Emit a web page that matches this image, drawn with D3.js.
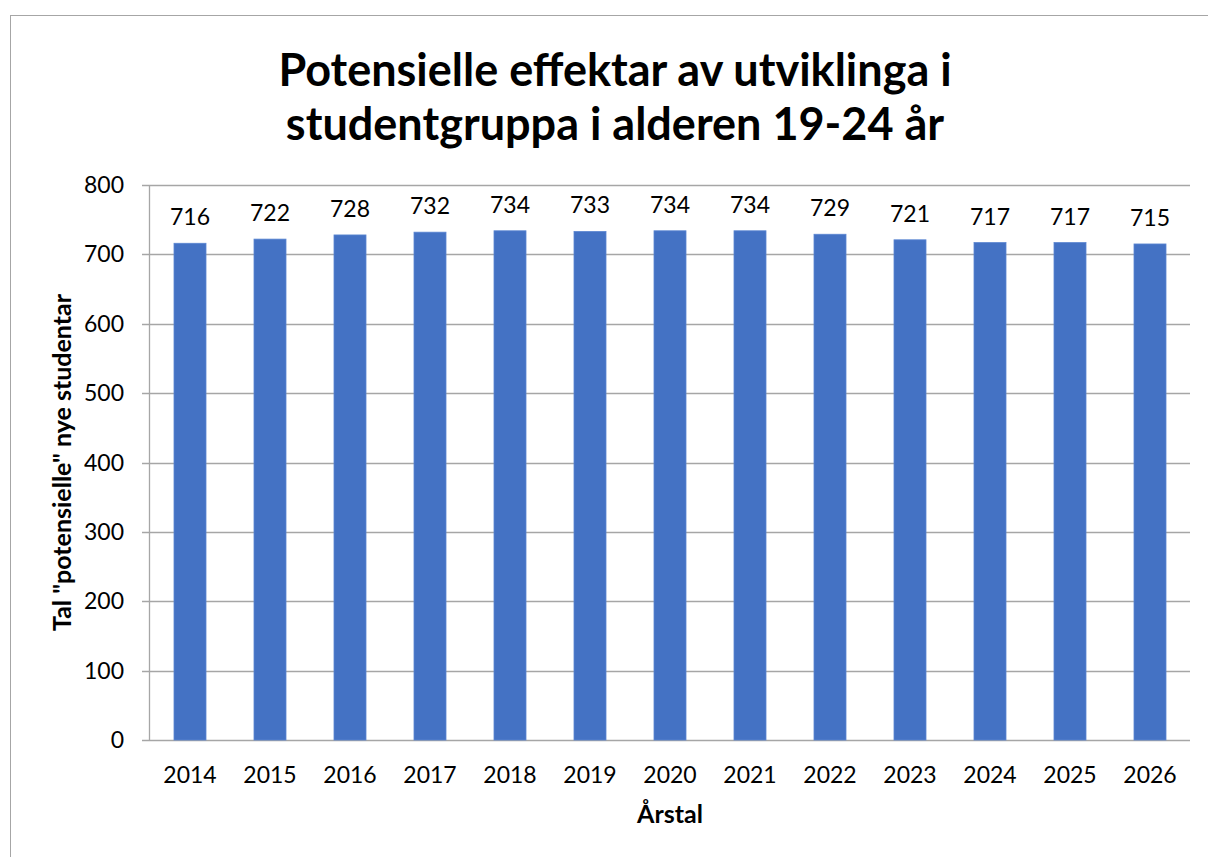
<!DOCTYPE html>
<html>
<head>
<meta charset="utf-8">
<script src="https://cdn.jsdelivr.net/npm/d3@7"></script>
<style>
  body { margin: 0; background: #fff; }
  svg text { font-family: Lato, "Open Sans", sans-serif; fill: #000; }
</style>
</head>
<body>
<div id="chart"></div>
<script>
// data
var years = ["2014","2015","2016","2017","2018","2019","2020","2021","2022","2023","2024","2025","2026"];
var students = [716, 722, 728, 732, 734, 733, 734, 734, 729, 721, 717, 717, 715];
var yTicks = [0, 100, 200, 300, 400, 500, 600, 700, 800];
var titleLines = ["Potensielle effektar av utviklinga i", "studentgruppa i alderen 19-24 år"];

var W = 1208, H = 857;
var plotLeft = 150, plotRight = 1190, plotTop = 185, plotBottom = 740;

var svg = d3.select("#chart").append("svg")
  .attr("width", W)
  .attr("height", H);

// chart frame
svg.append("rect")
  .attr("x", 10.5).attr("y", 15.5)
  .attr("width", 1300).attr("height", 1000)
  .attr("fill", "none")
  .attr("stroke", "#a6a6a6")
  .attr("stroke-width", 1);

var x = d3.scaleBand()
  .domain(years)
  .range([plotLeft, plotRight])
  .paddingInner(0.6)
  .paddingOuter(0.3);

var y = d3.scaleLinear()
  .domain([0, 800])
  .range([plotBottom, plotTop]);

// gridlines
svg.append("g")
  .selectAll("line")
  .data(yTicks)
  .enter().append("line")
    .attr("x1", plotLeft - 8)
    .attr("x2", plotRight)
    .attr("y1", function(d) { return Math.round(y(d)) + 0.5; })
    .attr("y2", function(d) { return Math.round(y(d)) + 0.5; })
    .attr("stroke", "#a6a6a6")
    .attr("stroke-width", 1.3);

// y axis line
svg.append("line")
  .attr("x1", plotLeft - 0.5).attr("x2", plotLeft - 0.5)
  .attr("y1", plotTop).attr("y2", plotBottom)
  .attr("stroke", "#a6a6a6")
  .attr("stroke-width", 1.3);

// y tick labels
svg.append("g")
  .selectAll("text")
  .data(yTicks)
  .enter().append("text")
    .attr("x", plotLeft - 26)
    .attr("y", function(d) { return y(d); })
    .attr("dy", "0.35em")
    .attr("text-anchor", "end")
    .style("font-size", "23px")
    .text(function(d) { return d; });

// bars
svg.append("g")
  .selectAll("rect")
  .data(students)
  .enter().append("rect")
    .attr("x", function(d, i) { return x(years[i]); })
    .attr("y", function(d) { return y(d); })
    .attr("width", x.bandwidth())
    .attr("height", function(d) { return plotBottom - y(d); })
    .attr("fill", "#4472c4")
    .attr("stroke", "#5b86d2")
    .attr("stroke-width", 0.8);

// value labels
svg.append("g")
  .selectAll("text")
  .data(students)
  .enter().append("text")
    .attr("x", function(d, i) { return x(years[i]) + x.bandwidth() / 2; })
    .attr("y", function(d) { return y(d) - 18; })
    .attr("text-anchor", "middle")
    .style("font-size", "23px")
    .text(function(d) { return d; });

// x tick labels
svg.append("g")
  .selectAll("text")
  .data(years)
  .enter().append("text")
    .attr("x", function(d) { return x(d) + x.bandwidth() / 2; })
    .attr("y", 783)
    .attr("text-anchor", "middle")
    .style("font-size", "23px")
    .text(function(d) { return d; });

// title
svg.append("g")
  .selectAll("text")
  .data(titleLines)
  .enter().append("text")
    .attr("x", 615)
    .attr("y", function(d, i) { return 86 + i * 54; })
    .attr("text-anchor", "middle")
    .style("font-size", "45px")
    .style("font-weight", "bold")
    .text(function(d) { return d; });

// axis titles
svg.append("text")
  .attr("x", 670)
  .attr("y", 823)
  .attr("text-anchor", "middle")
  .style("font-size", "25px")
  .style("font-weight", "bold")
  .text("Årstal");

svg.append("text")
  .attr("transform", "translate(71," + ((plotTop + plotBottom) / 2) + ") rotate(-90)")
  .attr("text-anchor", "middle")
  .style("font-size", "25px")
  .style("font-weight", "bold")
  .text("Tal \"potensielle\" nye studentar");
</script>
</body>
</html>
